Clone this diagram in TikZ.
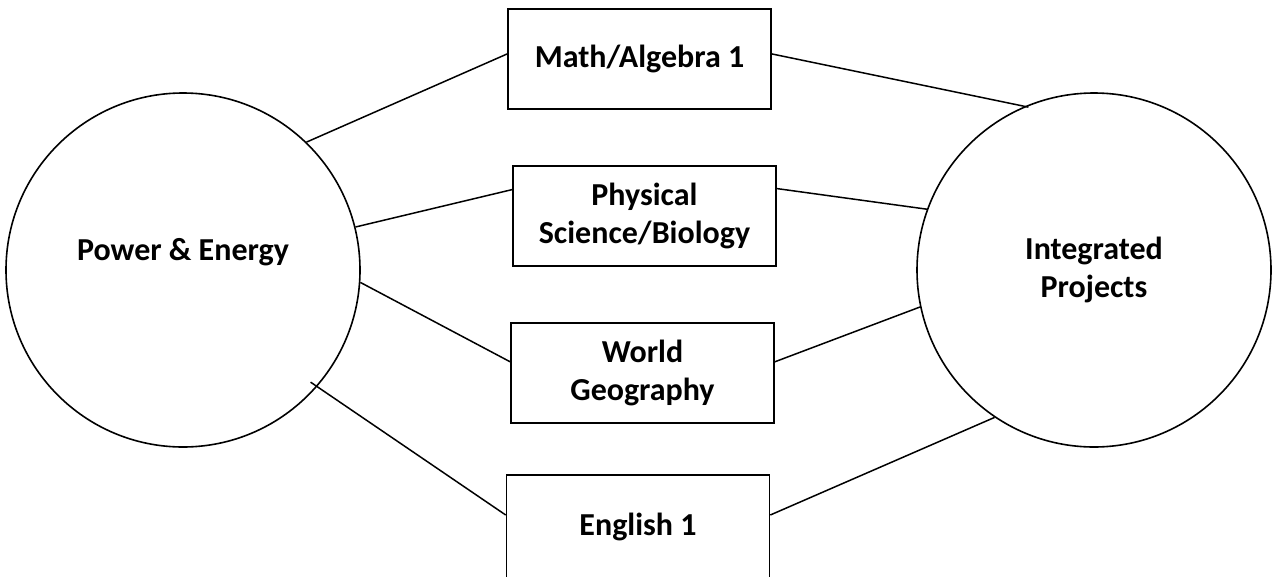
\documentclass[tikz,border=0pt]{standalone}
\usepackage{fontspec}
\setmainfont{Carlito}
\usetikzlibrary{calc}
\tikzset{
  circ/.style={draw, circle, line width=1.6pt, minimum size=354pt, inner sep=0pt},
  subj/.style={draw, rectangle, line width=1.6pt, minimum width=263pt, minimum height=100pt, inner sep=0pt, align=center},
  lbl/.style={align=center, inner sep=0pt, font=\bfseries\fontsize{32}{38}\selectfont},
  conn/.style={line width=1.5pt}
}
\begin{document}
\begin{tikzpicture}[x=1pt, y=-1pt]
\useasboundingbox (0,0) rectangle (1275,576);
\node[circ] (pe) at (183,270) {};
\node[lbl] (pelbl) at ($(pe.center)+(0,-18)$) {Power \& Energy};
\node[circ, lbl, draw, line width=1.6pt, minimum size=354pt] (ip) at (1094,270) {Integrated\\Projects};
\node[subj, lbl] (b1) at (639.5,59) {Math/Algebra 1};
\node[subj, lbl] (b2) at (644.5,216) {Physical\\Science/Biology};
\node[subj, lbl] (b3) at (642.5,373) {World\\Geography};
\node[subj, lbl, minimum height=103pt] (b4) at (638,526.5) {English 1};
% left connectors
\draw[conn] (pe.46.8) -- ($(b1.north west)!0.45!(b1.south west)$);
\draw[conn] (pe.14.2) -- ($(b2.north west)!0.24!(b2.south west)$);
\draw[conn] (pe.-4.8) -- ($(b3.north west)!0.39!(b3.south west)$);
\draw[conn, shorten <=-8pt] (pe.-41.8) -- ($(b4.north west)!0.39!(b4.south west)$);
% right connectors
\draw[conn, shorten >=-4pt] ($(b1.north east)!0.45!(b1.south east)$) -- (ip.113.9);
\draw[conn] ($(b2.north east)!0.23!(b2.south east)$) -- (ip.160.6);
\draw[conn] ($(b3.north east)!0.39!(b3.south east)$) -- (ip.192.5);
\draw[conn] ($(b4.north east)!0.39!(b4.south east)$) -- (ip.236.2);
\end{tikzpicture}
\end{document}
